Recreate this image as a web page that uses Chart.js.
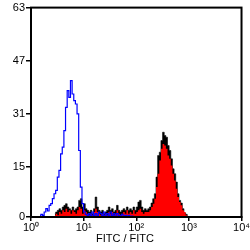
<!DOCTYPE html>
<html><head><meta charset="utf-8">
<script src="https://cdn.jsdelivr.net/npm/chart.js@4/dist/chart.umd.min.js"></script>
<style>html,body{margin:0;padding:0;background:#fff}#w{width:250px;height:250px}</style>
</head><body><div id="w"><canvas id="c"></canvas></div>
<script>
const binsPerDecade = 32;
const xTickLabels = ['10⁰','10¹','10²','10³','10⁴'];
const yTickValues = [0, 15, 31, 47, 63];
const axisTitle = 'FITC / FITC';

// isotype control (blue outline), bins starting at index 5
const blueStart = 5;
const blueCounts = [0.4,0.8,0.5,1.5,2.5,1.8,3.5,4,5.5,7,8,12,14,19,21,26,33,38,36,41,37,35,34,31,20,9,4,1.5,0.8,
  0.5,1,0.5,1.5,0.5,1,0.5,1.5,1,0.5,1.5,0.5,1,0.5,1.5,0.5,1,0.3,1,0.5,0.3,0.8,0.3,0.5,0.2,0.5,0.2,0.3,0];

// stained sample, bins starting at index 14
const sampleStart = 14;
const blackCounts = [1,1.5,2,2.5,2,3,3.5,4,3,2.5,2,3,2,2.5,3,5,5.5,3,4,2.5,2,1.5,2,1,2.5,6,3,2,1.5,2,1,1.5,2,3,2,2.5,1.5,2,3.5,2,1.5,2,2.5,2,3,2,2.5,2,3,2,3,4.5,5,3,2,2.5,2,2.5,3,
  4.2,5.5,7,12,18.5,19.5,23,25.5,24.5,24,21.5,20,17.5,14.5,13,10.5,7,5,4.2,2.5,1.2,0.8,0];
const redCounts = [0.5,1,0.5,1.5,1,2,1.5,2.5,1.5,2,1,2,1.5,1,2,3,2.5,1,2,1.5,1,0.5,1,0.5,1.5,2.5,1.5,1,0.5,1,0.5,1,0.5,1.5,1,1.5,0.5,1,2,1,0.5,1,1.5,1,2,1,1.5,1,2,1,1.5,2,2.5,1.5,1,1.5,1.5,1.5,2,
  3,4,5.5,9,13,17,20.5,22,21.5,20.5,18.5,17.5,15.5,13,11,8.5,6,4.5,3.5,2,1.5,0.5,0];

function toPoints(start, counts) {
  return counts.map((v, k) => ({ x: (start + k + 0.5) / binsPerDecade, y: v }));
}

const FONT = 'Liberation Sans, Arial, sans-serif';

const framePlugin = {
  id: 'frame',
  afterDraw(chart) {
    const a = chart.chartArea, ctx = chart.ctx;
    ctx.save();
    ctx.strokeStyle = '#000';
    ctx.lineWidth = 2;
    ctx.strokeRect(a.left, a.top, a.right - a.left, a.bottom - a.top);
    ctx.fillStyle = '#000';
    ctx.font = '11px ' + FONT;
    ctx.textAlign = 'center';
    ctx.textBaseline = 'middle';
    ctx.fillText(axisTitle, chart.width / 2, a.bottom + 22);
    ctx.restore();
  }
};

new Chart(document.getElementById('c'), {
  type: 'line',
  data: {
    datasets: [
      { label: 'Isotype', data: toPoints(blueStart, blueCounts), borderColor: '#0000ff', borderWidth: 1.2,
        fill: false, stepped: 'middle', pointRadius: 0 },
      { label: 'Sample', data: toPoints(sampleStart, redCounts), borderColor: '#ff0000', borderWidth: 0,
        backgroundColor: '#ff0000', fill: 'origin', stepped: 'middle', pointRadius: 0 },
      { label: 'Sample outline', data: toPoints(sampleStart, blackCounts), borderColor: '#000', borderWidth: 0.6,
        backgroundColor: '#000', fill: 'origin', stepped: 'middle', pointRadius: 0 }
    ]
  },
  options: {
    responsive: true, maintainAspectRatio: false, animation: false,
    layout: { padding: { top: 6, right: 8, left: 0, bottom: 0 } },
    plugins: { legend: { display: false }, tooltip: { enabled: false } },
    scales: {
      x: {
        type: 'linear', min: 0, max: 4,
        grid: { drawOnChartArea: false, drawTicks: true, tickLength: 4, color: '#000', lineWidth: 1.5 },
        border: { display: true, color: '#000', width: 2 },
        ticks: { stepSize: 1, color: '#000', padding: 0, maxRotation: 0,
          font: { family: FONT, size: 11 },
          callback: v => xTickLabels[v] },
        afterFit: s => { s.height = 33; }
      },
      y: {
        type: 'linear', min: 0, max: 63,
        afterBuildTicks: s => { s.ticks = yTickValues.map(v => ({ value: v })); },
        grid: { drawOnChartArea: false, drawTicks: true, tickLength: 5, color: '#000', lineWidth: 1.5 },
        border: { display: true, color: '#000', width: 2 },
        ticks: { color: '#000', padding: 1,
          font: { family: FONT, size: 11 } },
        afterFit: s => { s.width = 31; }
      }
    }
  },
  plugins: [framePlugin]
});
</script></body></html>
